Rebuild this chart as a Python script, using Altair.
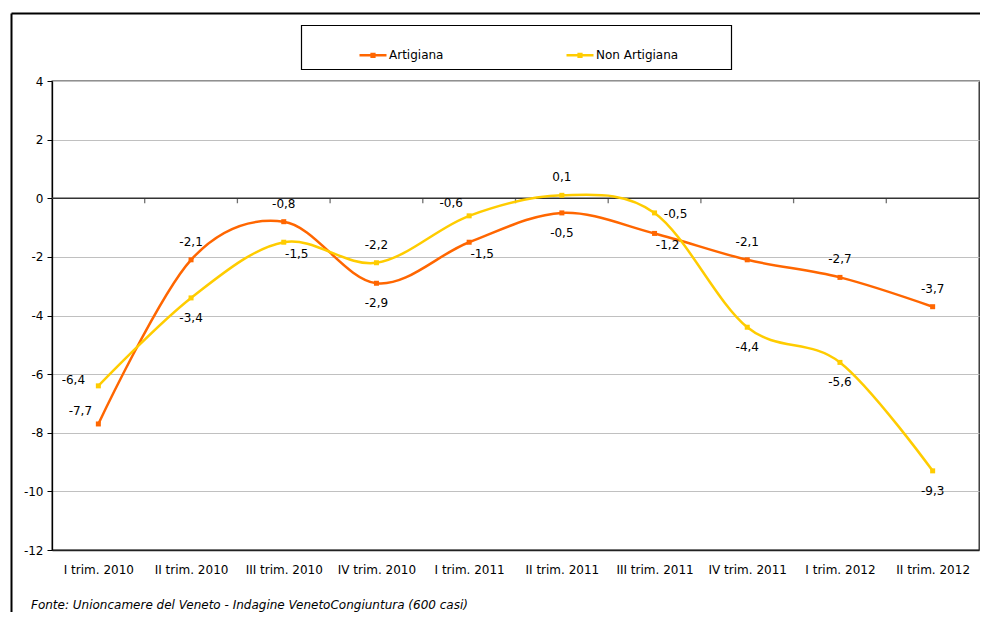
import altair as alt
import pandas as pd

categories = ["I trim. 2010", "II trim. 2010", "III trim. 2010", "IV trim. 2010",
              "I trim. 2011", "II trim. 2011", "III trim. 2011", "IV trim. 2011",
              "I trim.  2012", "II trim. 2012"]
artigiana = [-7.7, -2.1, -0.8, -2.9, -1.5, -0.5, -1.2, -2.1, -2.7, -3.7]
non_artigiana = [-6.4, -3.4, -1.5, -2.2, -0.6, 0.1, -0.5, -4.4, -5.6, -9.3]
series_names = ["Artigiana", "Non Artigiana"]
series_colors = ["#FF6600", "#FFCC00"]
y_ticks = [-12, -10, -8, -6, -4, -2, 0, 2, 4]
footer = "Fonte: Unioncamere del Veneto - Indagine VenetoCongiuntura (600 casi)"

# data-label placement codes (style, kept apart from the values)
art_place = ["ul", "above", "above", "below", "br", "below", "br", "above", "above", "above"]
non_place = ["left", "below", "br", "above", "ul", "above", "right", "below", "below", "below"]
offsets = {"above": (0, -18), "below": (0, 20), "left": (-25, -6), "right": (21, 1),
           "br": (13, 12), "ul": (-18, -13)}

FONT = "DejaVu Sans"
W, H = 927, 469

rows = []
for name, vals, places in [(series_names[0], artigiana, art_place),
                           (series_names[1], non_artigiana, non_place)]:
    for i, (v, p) in enumerate(zip(vals, places)):
        rows.append({"idx": i, "value": v, "series": name,
                     "label": f"{v:.1f}".replace(".", ","), "place": p})
df = pd.DataFrame(rows)
bounds = pd.DataFrame({"b": [i + 0.5 for i in range(len(categories) - 1)]})
one = pd.DataFrame({"t": [footer]})

label_expr = "[" + ",".join("'" + c + "'" for c in categories) + "][datum.value]"

x_enc = alt.X("idx:Q", title=None,
              scale=alt.Scale(domain=[-0.5, len(categories) - 0.5], nice=False, zero=False),
              axis=alt.Axis(values=list(range(len(categories))), labelExpr=label_expr,
                            grid=False, ticks=False, domain=True, domainColor="#222",
                            domainWidth=1.3, labelPadding=14, labelFontSize=12,
                            labelFont=FONT, labelColor="#000"))
y_enc = alt.Y("value:Q", title=None,
              scale=alt.Scale(domain=[-12, 4], nice=False, zero=False),
              axis=alt.Axis(values=y_ticks, labelExpr="'' + datum.value",
                            grid=True, gridColor="#C0C0C0", gridWidth=1,
                            tickSize=5, tickColor="#000", domainColor="#000",
                            domainWidth=1.3, labelPadding=4, labelFontSize=12,
                            labelFont=FONT, labelColor="#000"))
color_enc = alt.Color("series:N", scale=alt.Scale(domain=series_names, range=series_colors),
                      legend=alt.Legend(orient="none", legendX=306, legendY=-41,
                                        direction="horizontal", title=None,
                                        symbolType="M-1,0H1M-0.1,-0.1H0.1V0.1H-0.1Z",
                                        symbolSize=729, symbolStrokeWidth=2.5,
                                        labelFontSize=12, labelFont=FONT, labelColor="#000",
                                        labelOffset=1, columnPadding=117, padding=0))

anchor = alt.Chart(one).mark_rect(opacity=0, fillOpacity=0).encode(
    x=alt.value(-44), x2=alt.value(-43), y=alt.value(-73), y2=alt.value(-72))
left_border = alt.Chart(one).mark_rule(color="#000", strokeWidth=2).encode(
    x=alt.value(-40.5), y=alt.value(-67.5), y2=alt.value(531))
top_border = alt.Chart(one).mark_rule(color="#000", strokeWidth=2).encode(
    x=alt.value(-40.5), x2=alt.value(928), y=alt.value(-67.5))
legend_box = alt.Chart(one).mark_rect(fill="white", stroke="#000", strokeWidth=1.2).encode(
    x=alt.value(249.5), x2=alt.value(679.5), y=alt.value(-55.5), y2=alt.value(-11.5))
footer_text = alt.Chart(one).mark_text(align="left", baseline="middle", fontStyle="italic",
                                       fontSize=12, font=FONT, color="#000").encode(
    x=alt.value(-21), y=alt.value(524), text="t:N")

zero_rule = alt.Chart(one).mark_rule(color="#333", strokeWidth=1.3).encode(y=alt.YDatum(0))
tick_marks = alt.Chart(bounds).mark_tick(orient="vertical", size=5, yOffset=2.5,
                                         color="#333", thickness=1.3).encode(
    x=alt.X("b:Q"), y=alt.YDatum(0))

base = alt.Chart(df)
lines = base.mark_line(interpolate="cardinal", strokeWidth=2.5).encode(
    x=x_enc, y=y_enc, color=color_enc, detail="series:N")
points = base.mark_point(shape="square", filled=True, size=25, opacity=1).encode(
    x=x_enc, y=y_enc,
    color=alt.Color("series:N", scale=alt.Scale(domain=series_names, range=series_colors),
                    legend=None))

label_layers = []
for code, (dx, dy) in offsets.items():
    label_layers.append(
        base.transform_filter(alt.datum.place == code).mark_text(
            dx=dx, dy=dy, fontSize=12, font=FONT, color="#000", baseline="middle", align="center"
        ).encode(x=x_enc, y=y_enc, text="label:N"))

chart = alt.layer(anchor, left_border, top_border, legend_box, footer_text,
                  zero_rule, tick_marks, lines, points, *label_layers).properties(
    width=W, height=H, padding=0, background="white"
).configure_view(stroke="#222", strokeWidth=1.3)

chart.save("out.html", embed_options={"renderer": "svg", "actions": False})
